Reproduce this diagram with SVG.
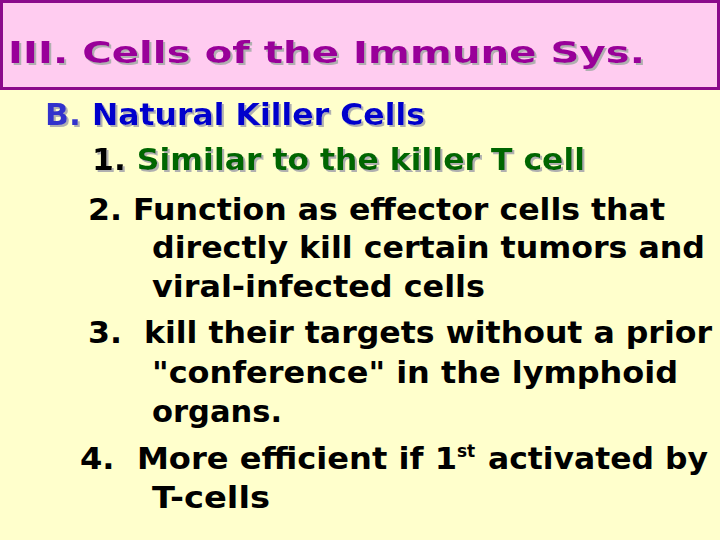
<svg xmlns="http://www.w3.org/2000/svg" width="720" height="540" viewBox="0 0 720 540">
<defs>
<style>
text{font-family:"DejaVu Sans",Verdana,sans-serif;font-weight:bold;font-size:30px}
.b{fill:#000}
</style>
<filter id="sh" x="-5%" y="-20%" width="110%" height="140%"><feDropShadow dx="2" dy="2" stdDeviation="0.3" flood-color="#b0b0b0"/></filter>
</defs>
<rect width="720" height="540" fill="#FFFFCC"/>
<g id="title">
<rect x="1.5" y="1.5" width="717" height="87" fill="#FFCCF0" stroke="#8B0A8B" stroke-width="3"/>
<text x="8" y="63" font-size="40" fill="#990099" filter="url(#sh)" textLength="637" lengthAdjust="spacingAndGlyphs">III. Cells of the Immune Sys.</text>
</g>
<g id="body">
<text x="45" y="125" filter="url(#sh)" textLength="380" lengthAdjust="spacingAndGlyphs"><tspan fill="#3333CC">B. </tspan><tspan fill="#0000CC">Natural Killer Cells</tspan></text>
<text x="92" y="170" filter="url(#sh)" textLength="493" lengthAdjust="spacingAndGlyphs"><tspan fill="#000">1. </tspan><tspan fill="#006600">Similar to the killer T cell</tspan></text>
<text class="b" x="88" y="220" textLength="577" lengthAdjust="spacingAndGlyphs">2. Function as effector cells that</text>
<text class="b" x="152" y="258" textLength="553" lengthAdjust="spacingAndGlyphs">directly kill certain tumors and</text>
<text class="b" x="152" y="297" textLength="333" lengthAdjust="spacingAndGlyphs">viral-infected cells</text>
<text class="b" x="88" y="343" textLength="624" lengthAdjust="spacingAndGlyphs" xml:space="preserve">3.  kill their targets without a prior</text>
<text class="b" x="152" y="383" textLength="526" lengthAdjust="spacingAndGlyphs">"conference" in the lymphoid</text>
<text class="b" x="152" y="422" textLength="130" lengthAdjust="spacingAndGlyphs">organs.</text>
<text class="b" x="80" y="469" xml:space="preserve"><tspan textLength="377" lengthAdjust="spacingAndGlyphs">4.  More efficient if 1</tspan><tspan dy="-12" font-size="17">st</tspan><tspan x="488" y="469" textLength="220" lengthAdjust="spacingAndGlyphs">activated by</tspan></text>
<text class="b" x="152" y="508" textLength="118" lengthAdjust="spacingAndGlyphs">T-cells</text>
</g>
</svg>
